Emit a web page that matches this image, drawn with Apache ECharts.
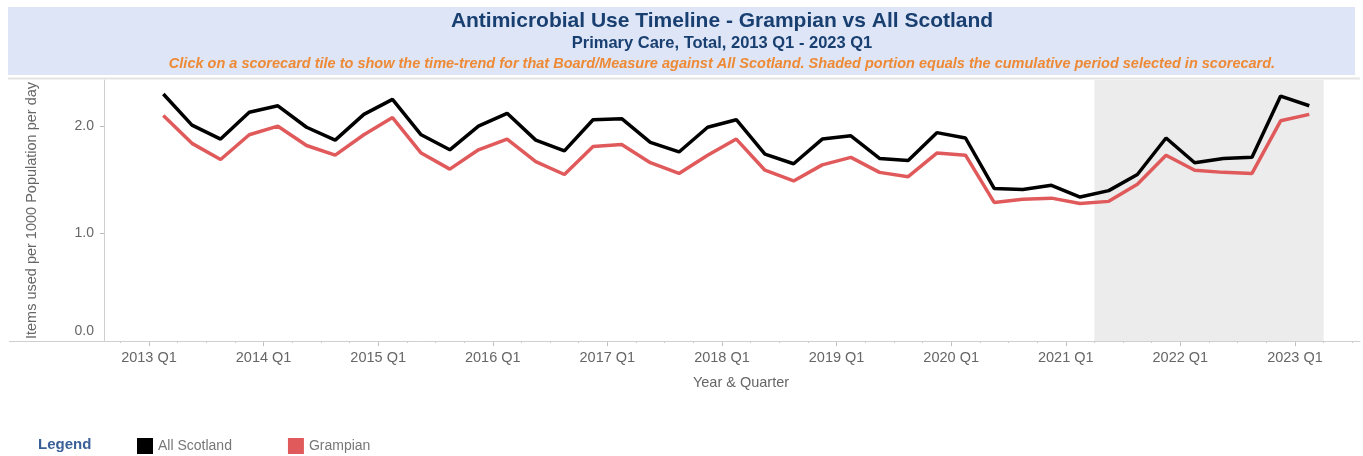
<!DOCTYPE html>
<html>
<head>
<meta charset="utf-8">
<title>Antimicrobial Use Timeline - Grampian vs All Scotland</title>
<script src="https://cdn.jsdelivr.net/npm/echarts@6/dist/echarts.min.js"></script>
<style>
    html, body { margin: 0; padding: 0; background: #fff; }
    #chart { width: 1363px; height: 456px; }
</style>
</head>
<body>
<div id="chart"></div>
<script>
    // year & quarter labels, 2013 Q1 .. 2023 Q1
    const years = [2013, 2014, 2015, 2016, 2017, 2018, 2019, 2020, 2021, 2022, 2023];
    const quarterNames = ['Q1', 'Q2', 'Q3', 'Q4'];
    const quarters = [];
    years.forEach(y => quarterNames.forEach(q => quarters.push(y + ' ' + q)));
    quarters.length = 41;

    // items used per 1000 population per day
    const allScotland = [
        2.30, 2.01, 1.88, 2.13, 2.19, 1.99, 1.87, 2.11, 2.25, 1.92,
        1.78, 2.00, 2.12, 1.87, 1.77, 2.06, 2.07, 1.85, 1.76, 1.99,
        2.06, 1.74, 1.65, 1.88, 1.91, 1.70, 1.68, 1.94, 1.89, 1.42,
        1.41, 1.45, 1.34, 1.40, 1.55, 1.89, 1.66, 1.70, 1.71, 2.28,
        2.19
    ];
    const grampian = [
        2.10, 1.84, 1.69, 1.92, 2.00, 1.82, 1.73, 1.92, 2.08, 1.75,
        1.60, 1.78, 1.88, 1.67, 1.55, 1.81, 1.83, 1.66, 1.56, 1.73,
        1.88, 1.59, 1.49, 1.64, 1.71, 1.57, 1.53, 1.75, 1.73, 1.29,
        1.32, 1.33, 1.28, 1.30, 1.46, 1.73, 1.59, 1.57, 1.56, 2.05,
        2.11
    ];

    // ticks & shaded (scorecard) period
    const yearTicks = ['2013 Q1', '2014 Q1', '2015 Q1', '2016 Q1', '2017 Q1', '2018 Q1',
        '2019 Q1', '2020 Q1', '2021 Q1', '2022 Q1', '2023 Q1'];
    const yTicks = [0, 1, 2];
    const shadeFrom = '2021 Q2';
    const shadeTo = '2023 Q1';

    const font = 'Arial, "Liberation Sans", sans-serif';
    const idx = q => quarters.indexOf(q);
    // each quarter is plotted in the middle of its band
    const toPairs = arr => arr.map((v, i) => [i + 0.5, v]);
    const majorTicks = yearTicks.map(idx);
    const minorTicks = [];
    for (let i = -1; i <= 42; i++) minorTicks.push(i);

    const xMin = -1.57, xMax = 42.27;

    let myChart = echarts.init(document.getElementById('chart'));
    myChart.setOption({
        animation: false,
        textStyle: {fontFamily: font},
        title: [
            {
                text: 'Antimicrobial Use Timeline - Grampian vs All Scotland',
                left: 722, top: 11, textAlign: 'center', padding: 0,
                textStyle: {fontSize: 21, fontWeight: 'bold', color: '#183f70', fontFamily: font}
            },
            {
                text: 'Primary Care, Total, 2013 Q1 - 2023 Q1',
                left: 722, top: 35, textAlign: 'center', padding: 0,
                textStyle: {fontSize: 16.5, fontWeight: 'bold', color: '#183f70', fontFamily: font}
            },
            {
                text: 'Click on a scorecard tile to show the time-trend for that Board/Measure against All Scotland. Shaded portion equals the cumulative period selected in scorecard.',
                left: 722, top: 56, textAlign: 'center', padding: 0,
                textStyle: {fontSize: 14.5, fontWeight: 'bold', fontStyle: 'italic', color: '#ee8a35', fontFamily: font}
            }
        ],
        legend: {
            left: 132, top: 433,
            icon: 'rect', itemWidth: 16, itemHeight: 16, itemGap: 56,
            textStyle: {fontSize: 14, color: '#777', fontFamily: font},
            data: ['All Scotland', 'Grampian']
        },
        graphic: [
            {
                type: 'rect', z: -10, silent: true,
                shape: {x: 8, y: 7, width: 1347, height: 68},
                style: {fill: '#dde5f7'}
            },
            {
                type: 'line', z: -10, silent: true,
                shape: {x1: 8, y1: 78.5, x2: 1360, y2: 78.5},
                style: {stroke: '#e4e4e4', lineWidth: 2}
            },
            {
                type: 'line', z: -10, silent: true,
                shape: {x1: 9, y1: 341.5, x2: 104, y2: 341.5},
                style: {stroke: '#cfcfcf', lineWidth: 1}
            },
            {
                type: 'text', left: 38, top: 437,
                style: {text: 'Legend', fill: '#3b5f97', font: 'bold 15px ' + font}
            }
        ],
        grid: {left: 104, right: 3, top: 80, bottom: 115, containLabel: false},
        xAxis: [
            {
                type: 'value', min: xMin, max: xMax,
                name: 'Year & Quarter', nameLocation: 'middle', nameGap: 34,
                nameTextStyle: {fontSize: 14.5, color: '#666', padding: [0, 0, 0, 18]},
                axisLine: {show: true, onZero: false, lineStyle: {color: '#cfcfcf'}},
                axisTick: {show: true, customValues: majorTicks, length: 5, lineStyle: {color: '#bbb'}},
                axisLabel: {
                    customValues: majorTicks, fontSize: 14.5, color: '#666', margin: 9,
                    formatter: v => quarters[Math.round(v)]
                },
                splitLine: {show: false}
            },
            {
                type: 'value', min: xMin, max: xMax, position: 'bottom',
                axisLine: {show: false, onZero: false},
                axisTick: {show: true, customValues: minorTicks, length: 2, lineStyle: {color: '#ccc'}},
                axisLabel: {show: false},
                splitLine: {show: false}
            }
        ],
        yAxis: {
            type: 'value', min: 0, max: 2.43,
            name: 'Items used per 1000 Population per day', nameLocation: 'middle', nameGap: 65,
            nameTextStyle: {fontSize: 14.5, color: '#666'},
            axisLine: {show: true, onZero: false, lineStyle: {color: '#cfcfcf'}},
            axisTick: {show: true, customValues: [1, 2], length: 4, lineStyle: {color: '#bbb'}},
            axisLabel: {
                customValues: yTicks, fontSize: 14, color: '#666', margin: 10,
                formatter: v => v === 0 ? '{z|0.0}' : v.toFixed(1),
                rich: {z: {fontSize: 14, color: '#666', padding: [0, 0, 20, 0]}}
            },
            splitLine: {show: false}
        },
        series: [
            {
                name: 'All Scotland', type: 'line', xAxisIndex: 0,
                data: toPairs(allScotland),
                symbol: 'none', smooth: false, z: 3,
                itemStyle: {color: '#000'},
                lineStyle: {color: '#000', width: 3.5},
                markArea: {
                    silent: true,
                    itemStyle: {color: '#ececec'},
                    data: [[{xAxis: idx(shadeFrom)}, {xAxis: idx(shadeTo) + 1}]]
                }
            },
            {
                name: 'Grampian', type: 'line', xAxisIndex: 0,
                data: toPairs(grampian),
                symbol: 'none', smooth: false, z: 2,
                itemStyle: {color: '#e05a5c'},
                lineStyle: {color: '#e05a5c', width: 3.5}
            }
        ]
    });
</script>
</body>
</html>
